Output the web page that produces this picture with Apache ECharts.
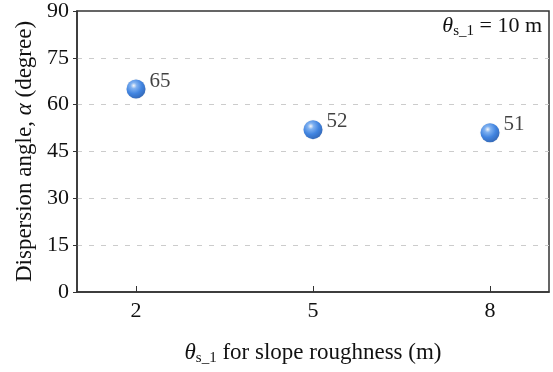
<!DOCTYPE html>
<html><head><meta charset="utf-8">
<script src="https://cdn.jsdelivr.net/npm/echarts@6/dist/echarts.min.js"></script>
<style>html,body{margin:0;padding:0;background:#fff}#c{width:553px;height:372px}</style>
</head><body><div id="c"></div>
<script>
const xValues = [2, 5, 8];
const yValues = [65, 52, 51];
const xTicks = [2, 5, 8];
const yTicks = [0, 15, 30, 45, 60, 75, 90];

const FONT = '"Liberation Serif", "Times New Roman", serif';
const TXT = '#111111';
const chart = echarts.init(document.getElementById('c'), null, {renderer: 'canvas'});
const sphere = new echarts.graphic.RadialGradient(0.38, 0.32, 0.72, [
  {offset: 0, color: '#ffffff'},
  {offset: 0.22, color: '#6aa8f7'},
  {offset: 0.6, color: '#1b6fe2'},
  {offset: 1, color: '#0b4cae'}
]);
chart.setOption({
  animation: false,
  grid: {left: 77, right: 4, top: 7, bottom: 80, show: true, borderColor: '#333', borderWidth: 1.5, backgroundColor: 'transparent'},
  xAxis: {
    type: 'value', min: 1, max: 9,
    axisLine: {show: true, lineStyle: {color: '#333', width: 1.5}},
    axisTick: {show: true, inside: true, length: 6, customValues: xTicks, lineStyle: {color: '#333'}},
    axisLabel: {customValues: xTicks, color: TXT, fontFamily: FONT, fontSize: 22, margin: 8},
    splitLine: {show: false},
    name: '{th|θ}{sub|s_1} for slope roughness (m)',
    nameLocation: 'middle', nameGap: 47,
    nameTextStyle: {color: TXT, fontFamily: FONT, fontSize: 23,
      rich: {th: {fontFamily: FONT, fontStyle: 'italic', fontSize: 23, color: TXT},
             sub: {fontFamily: FONT, fontSize: 15, color: TXT, verticalAlign: 'bottom', padding: [12, 0, 0, 0]}}}
  },
  yAxis: {
    type: 'value', min: 0, max: 90, interval: 15,
    axisLine: {show: true, lineStyle: {color: '#333', width: 1.5}},
    axisTick: {show: true, inside: false, length: 4, lineStyle: {color: '#333'}},
    axisLabel: {color: TXT, fontFamily: FONT, fontSize: 22, margin: 8,
      formatter: v => yTicks.includes(v) ? String(v) : ''},
    splitLine: {show: true, showMinLine: false, showMaxLine: false, lineStyle: {color: '#cccccc', type: [5, 7], width: 1}},
    name: 'Dispersion angle, {a|α} (degree)',
    nameLocation: 'middle', nameGap: 40,
    nameTextStyle: {color: TXT, fontFamily: FONT, fontSize: 23,
      rich: {a: {fontFamily: FONT, fontStyle: 'italic', fontSize: 23, color: TXT}}}
  },
  series: [{
    type: 'scatter',
    data: xValues.map((x, i) => [x, yValues[i]]),
    symbol: 'circle', symbolSize: 19,
    itemStyle: {color: sphere, shadowBlur: 1, shadowColor: 'rgba(0,0,0,0.2)'},
    label: {show: true, position: 'right', distance: 4, offset: [0, -8], textBorderWidth: 0,
      formatter: p => String(p.value[1]), color: TXT, fontFamily: FONT, fontSize: 21}
  }],
  graphic: [{
    type: 'text', right: 11, top: 15,
    style: {
      text: '{th|θ}{sub|s_1} = 10 m',
      font: '22px ' + FONT, fill: TXT,
      rich: {th: {fontFamily: FONT, fontStyle: 'italic', fontSize: 22, fill: TXT},
             sub: {fontFamily: FONT, fontSize: 15, fill: TXT, verticalAlign: 'bottom', padding: [11, 0, 0, 0]}}
    }
  }]
});
</script></body></html>
